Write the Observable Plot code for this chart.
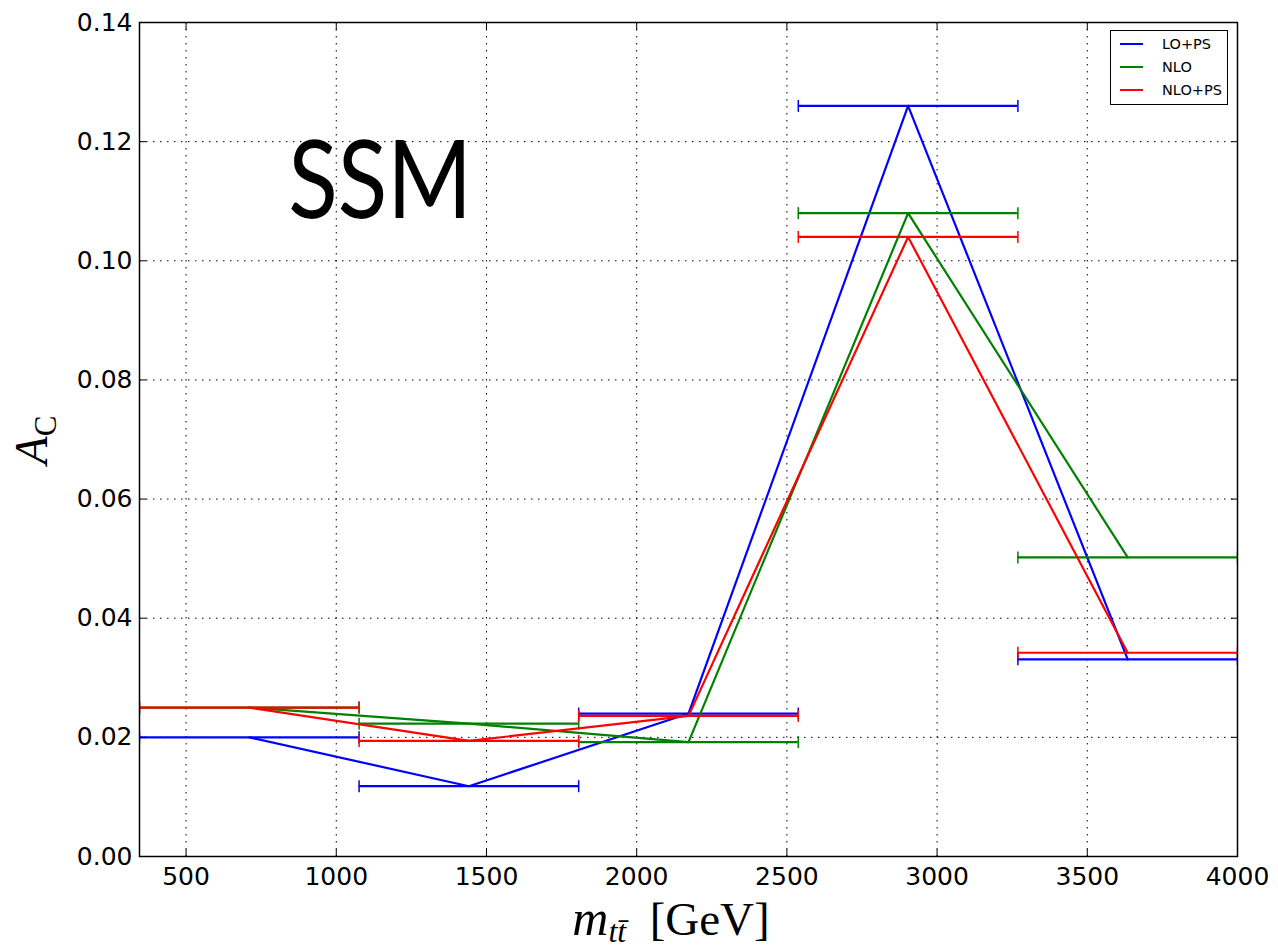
<!DOCTYPE html>
<html><head><meta charset="utf-8">
<script src="https://cdn.jsdelivr.net/npm/d3@7"></script>
<script src="https://cdn.jsdelivr.net/npm/@observablehq/plot@0.6"></script>
<style>
body{margin:0;background:#fff;}
#wrap{position:relative;width:1278px;height:950px;overflow:hidden;}
#legend{position:absolute;left:1110px;top:30px;width:118px;height:75px;border:1.5px solid #000;background:#fff;font-family:"DejaVu Sans",sans-serif;font-size:14.5px;box-sizing:border-box;}
.row{position:absolute;left:0;height:20px;display:flex;align-items:center;}
.row .ln{width:23px;height:2px;margin-left:9px;margin-right:19px;}
</style>
</head><body>
<div id="wrap"></div>
<script>
// ---- data ----
const binEdges = [345, 1076, 1807, 2538, 3269, 4000];
const seriesNames = ["LO+PS", "NLO", "NLO+PS"];
const seriesColors = ["#0000ff", "#008000", "#ff0000"];
const loPS  = [0.0200, 0.0118, 0.0240, 0.1260, 0.0331];
const nlo   = [0.0250, 0.0223, 0.0192, 0.1080, 0.0502];
const nloPS = [0.0250, 0.0194, 0.0236, 0.1040, 0.0342];
const xTicks = [500, 1000, 1500, 2000, 2500, 3000, 3500, 4000];
const yTicks = [0, 0.02, 0.04, 0.06, 0.08, 0.10, 0.12, 0.14];
const annotation = [{x: 1146, y: 0.1072, text: "SSM"}];

const seriesValues = [loPS, nlo, nloPS];

const capSymbol = {
  draw(ctx, size) {
    const r = Math.sqrt(size / Math.PI);
    ctx.moveTo(0, -r);
    ctx.lineTo(0, r);
  }
};

const seriesMarks = [];
seriesNames.forEach((name, i) => {
  const rows = seriesValues[i].map((v, j) => ({
    series: name,
    x1: binEdges[j],
    x2: binEdges[j + 1],
    xc: (binEdges[j] + binEdges[j + 1]) / 2,
    y: v
  }));
  const caps = rows.flatMap(d => [{x: d.x1, y: d.y}, {x: d.x2, y: d.y}]);
  const c = seriesColors[i];
  seriesMarks.push(
    Plot.line(rows, {x: "xc", y: "y", stroke: c, strokeWidth: 2.2, clip: true}),
    Plot.ruleY(rows, {x1: "x1", x2: "x2", y: "y", stroke: c, strokeWidth: 2.2, clip: true}),
    Plot.dot(caps, {x: "x", y: "y", r: 6, symbol: capSymbol, stroke: c, strokeWidth: 1.5, fill: "none", clip: true})
  );
});

const grid = {stroke: "black", strokeOpacity: 1, strokeWidth: 1, strokeDasharray: "1.5,5.5"};
const blank = () => "";

const plot = Plot.plot({
  width: 1278,
  height: 950,
  marginLeft: 139,
  marginRight: 41,
  marginTop: 22,
  marginBottom: 94,
  x: {domain: [345, 4000]},
  y: {domain: [0, 0.14]},
  style: {fontFamily: "DejaVu Sans, sans-serif", fontSize: "25px", color: "black", background: "white"},
  marks: [
    Plot.gridX(xTicks, grid),
    Plot.gridY(yTicks, grid),
    ...seriesMarks,
    Plot.text(annotation, {x: "x", y: "y", text: "text", fontSize: 108, fontFamily: "Lato", lineAnchor: "bottom", textAnchor: "middle", fill: "black"}),
    Plot.axisX(xTicks, {anchor: "bottom", tickSize: 0, tickPadding: 11, tickFormat: d3.format("d"), label: null, fontSize: 25}),
    Plot.axisX(xTicks, {anchor: "bottom", tickSize: 7, dy: -7, tickFormat: blank, label: null}),
    Plot.axisX(xTicks, {anchor: "top", tickSize: 7, dy: 7, tickFormat: blank, label: null}),
    Plot.axisY(yTicks, {anchor: "left", tickSize: 0, tickPadding: 7, tickFormat: d3.format(".2f"), label: null, fontSize: 25}),
    Plot.axisY(yTicks, {anchor: "left", tickSize: 7, dx: 7, tickFormat: blank, label: null}),
    Plot.axisY(yTicks, {anchor: "right", tickSize: 7, dx: -7, tickFormat: blank, label: null}),
    Plot.frame({stroke: "black", strokeWidth: 1.5})
  ]
});

const svg = d3.select(plot);
// narrow the SSM annotation to the reference's width
svg.selectAll("text").filter(function() { return this.textContent === "SSM"; })
  .attr("textLength", 184).attr("lengthAdjust", "spacingAndGlyphs");

// y label: A_C
const yl = svg.append("text")
  .attr("transform", "translate(47,440) rotate(-90)")
  .attr("text-anchor", "middle")
  .attr("font-family", "Liberation Serif, DejaVu Serif, serif")
  .attr("fill", "black");
yl.append("tspan").attr("font-style", "italic").attr("font-size", 46).text("A");
yl.append("tspan").attr("font-size", 31).attr("dy", 9).text("C");

// x label: m_{t tbar} [GeV]
const xl = svg.append("text")
  .attr("x", 671).attr("y", 935)
  .attr("text-anchor", "middle")
  .attr("font-family", "Liberation Serif, DejaVu Serif, serif")
  .attr("fill", "black");
xl.append("tspan").attr("font-style", "italic").attr("font-size", 50).text("m");
xl.append("tspan").attr("font-style", "italic").attr("font-size", 32).attr("dy", 7).text("tt\u0304");
xl.append("tspan").attr("font-size", 47).attr("dy", -7).text("\u2002[GeV]");

const wrap = document.getElementById("wrap");
wrap.appendChild(plot);

// legend
const legend = document.createElement("div");
legend.id = "legend";
const rowTops = [3, 26, 49];
seriesNames.forEach((name, i) => {
  const row = document.createElement("div");
  row.className = "row";
  row.style.top = rowTops[i] + "px";
  const ln = document.createElement("span");
  ln.className = "ln";
  ln.style.background = seriesColors[i];
  const tx = document.createElement("span");
  tx.textContent = name;
  row.appendChild(ln);
  row.appendChild(tx);
  legend.appendChild(row);
});
wrap.appendChild(legend);
</script>
</body></html>
